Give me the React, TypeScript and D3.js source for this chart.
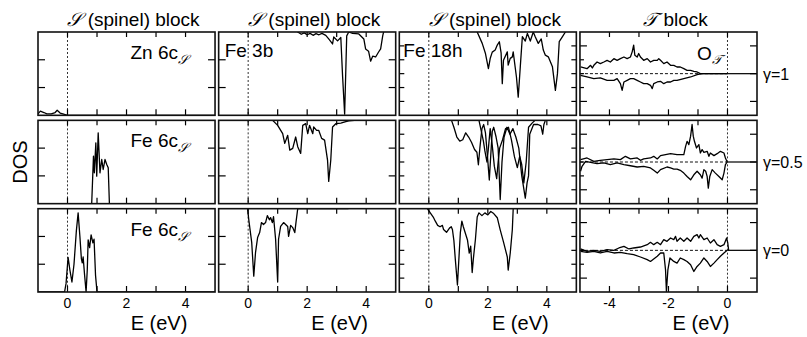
import * as d3 from 'd3';

type Pt = [number, number];

// column headings and labels
const titleScript = ['𝒮', '𝒮', '𝒮', '𝒯'];
const titleRest = [' (spinel) block', ' (spinel) block', ' (spinel) block', ' block'];
const gammaLabels = ['γ=1', 'γ=0.5', 'γ=0'];
const sTickLabels = [0, 2, 4];
const tTickLabels = [-4, -2, 0];

// S block, column 1 (DOS up from bottom, 0..3)
const znS1: Pt[] = [[-1, 0.05], [-0.92, 0.15], [-0.8, 0.1], [-0.7, 0.05], [-0.55, 0.05], [-0.42, 0.1], [-0.35, 0.18], [-0.25, 0.08], [-0.1, 0.03], [0, 0], [5, 0]];
const fe6cS2: Pt[] = [[-1, 0], [0.82, 0], [0.88, 1.71], [0.91, 1.11], [0.96, 2.19], [0.99, 0.99], [1.04, 2.55], [1.1, 1.11], [1.16, 1.59], [1.21, 1.23], [1.27, 1.59], [1.33, 1.41], [1.38, 1.29], [1.42, 0], [5, 0]];
const fe6cS3: Pt[] = [[-1, 0], [-0.1, 0], [-0.05, 0.3], [0.02, 1.25], [0.08, 0.8], [0.15, 0.36], [0.22, 1.0], [0.3, 2.2], [0.36, 2.85], [0.42, 2.0], [0.47, 1.2], [0.5, 1.05], [0.53, 1.26], [0.58, 0.6], [0.63, 0], [0.67, 0.8], [0.7, 1.88], [0.75, 1.6], [0.8, 2.06], [0.86, 1.77], [0.9, 1.9], [0.95, 0.6], [1.0, 0], [5, 0]];

// S block, column 2 (depth from top, 0..3)
const fe3b1: Pt[] = [[1.6, -0.3], [1.68, 0], [1.8, 0.08], [1.9, 0.03], [2.0, 0.1], [2.1, 0.05], [2.2, 0.12], [2.3, 0.06], [2.4, 0.1], [2.5, 0.05], [2.63, 0.12], [2.73, 0.25], [2.86, 0.43], [2.9, 0.18], [3.03, 0.32], [3.14, 0.2], [3.2, 1.59], [3.27, 2.96], [3.34, 0.14], [3.41, 0.0], [3.54, 0.05], [3.75, 0.07], [3.92, 0.25], [3.98, 0.61], [4.08, 0.69], [4.15, 1.05], [4.22, 0.87], [4.32, 0.9], [4.42, 0.72], [4.49, 0.61], [4.56, 0.14], [4.59, 0], [4.7, -0.3]];
const fe3b2: Pt[] = [[0.75, -0.1], [0.83, 0], [1.0, 0.18], [1.17, 0.48], [1.24, 0.83], [1.34, 0.54], [1.41, 1.07], [1.51, 1.01], [1.61, 0.6], [1.68, 0.95], [1.78, 1.19], [1.85, 0.18], [1.95, 0.12], [2.02, 0.48], [2.08, 0.18], [2.19, 0.48], [2.22, 0.24], [2.32, 0.36], [2.39, 0.36], [2.49, 0.65], [2.59, 0.71], [2.69, 1.43], [2.73, 2.2], [2.8, 1.43], [2.86, 0.24], [2.97, 0.12], [3.14, 0.1], [3.31, 0.05], [3.41, 0.02], [3.6, 0]];
const fe3b3: Pt[] = [[-0.05, -0.2], [-0.02, 0], [0.02, 0.39], [0.12, 1.21], [0.19, 2.43], [0.25, 1.57], [0.32, 1.04], [0.39, 0.86], [0.45, 0.5], [0.52, 0.57], [0.59, 0.5], [0.65, 0.25], [0.72, 0.4], [0.76, 0.32], [0.82, 0.5], [0.86, 0.29], [0.93, 1.1], [1.0, 2.64], [1.03, 1.1], [1.1, 0.64], [1.2, 0.5], [1.27, 0.57], [1.34, 0.64], [1.37, 1.0], [1.44, 0.6], [1.51, 0.68], [1.58, 0.86], [1.62, 0.5], [1.68, 0], [3.0, 0], [3.4, 0]];

// S block, column 3 (depth from top, 0..6)
const fe18h1: Pt[] = [[1.6, -0.3], [1.64, 0], [1.81, 0.82], [1.92, 1.55], [2.02, 2.63], [2.08, 1.91], [2.15, 1.45], [2.25, 1.3], [2.32, 0.94], [2.39, 0.7], [2.45, 1.5], [2.49, 3.72], [2.53, 2.03], [2.66, 1.43], [2.69, 2.39], [2.76, 1.9], [2.83, 1.79], [2.86, 1.43], [2.97, 3.24], [3.03, 4.69], [3.1, 2.51], [3.17, 0.34], [3.27, 0.65], [3.34, 0.1], [3.44, 0.65], [3.54, 0], [3.61, 0.36], [3.71, 0.82], [3.81, 0.5], [3.88, 1.3], [3.95, 1.67], [4.05, 1.79], [4.19, 2.51], [4.29, 4.2], [4.36, 3.0], [4.42, 0.7], [4.53, 0.34], [4.63, 0], [4.7, -0.3]];
const fe18h2a: Pt[] = [[0.7, -0.2], [0.77, 0], [0.85, 0.5], [0.95, 1.2], [1.05, 1.5], [1.15, 1.4], [1.25, 0.9], [1.35, 1.2], [1.45, 1.6], [1.55, 2.1], [1.63, 2.3], [1.68, 3.2], [1.73, 2.0], [1.8, 0.6], [1.86, 0.3], [1.92, 0.9], [1.98, 2.4], [2.05, 4.3], [2.1, 2.5], [2.15, 0.8], [2.2, 0.5], [2.28, 1.2], [2.35, 2.0], [2.42, 5.7], [2.48, 3.0], [2.55, 1.2], [2.65, 0.5], [2.75, 1.0], [2.85, 0.6], [2.95, 1.2], [3.05, 2.0], [3.15, 4.0], [3.27, 5.6], [3.33, 4.5], [3.38, 4.0], [3.42, 1.0], [3.55, 0.3], [3.7, 0.3], [3.8, 0.4], [3.86, 1.0], [3.9, 0.3], [3.95, 0], [4.0, -0.2]];
const fe18h2b: Pt[] = [[1.65, -0.2], [1.7, 0], [1.78, 0.8], [1.85, 1.5], [1.9, 2.2], [1.97, 3.0], [2.02, 2.0], [2.08, 0.6], [2.15, 1.8], [2.22, 3.3], [2.3, 4.2], [2.35, 3.0], [2.4, 2.0], [2.5, 1.4], [2.6, 0.6], [2.7, 0.5], [2.8, 1.4], [2.9, 2.6], [3.0, 3.4], [3.08, 2.6], [3.15, 3.2], [3.22, 4.5], [3.3, 3.0], [3.38, 0.5], [3.5, 0.2], [3.6, 0], [3.7, -0.2]];
const fe18h3: Pt[] = [[-0.08, -0.2], [-0.05, 0], [0.05, 0.3], [0.15, 0.6], [0.22, 0.9], [0.3, 1.2], [0.38, 1.3], [0.46, 1.2], [0.5, 1.5], [0.6, 1.7], [0.7, 1.4], [0.76, 1.3], [0.8, 1.5], [0.85, 2.3], [0.9, 3.7], [0.97, 5.5], [1.03, 3.2], [1.07, 1.7], [1.12, 0.9], [1.17, 1.3], [1.31, 2.25], [1.37, 3.2], [1.42, 2.7], [1.47, 4.6], [1.51, 3.6], [1.58, 2.2], [1.64, 0.6], [1.7, 0.3], [1.8, 0.5], [1.9, 0.3], [2.0, 0.45], [2.1, 0.2], [2.2, 0.35], [2.32, 0.65], [2.42, 1.52], [2.53, 2.39], [2.66, 3.48], [2.69, 4.42], [2.76, 3.19], [2.83, 1.52], [2.86, 0], [3.0, -0.2]];

// T block, O_T (spin up / spin down, -3..3)
const oT1Up: Pt[] = [[-4.98, 0.48], [-4.76, 0.36], [-4.64, 0.6], [-4.58, 0.41], [-4.53, 0.6], [-4.42, 0.84], [-4.31, 0.72], [-4.19, 0.84], [-4.08, 0.96], [-3.97, 0.84], [-3.85, 1.08], [-3.74, 0.96], [-3.63, 1.08], [-3.51, 1.2], [-3.4, 1.08], [-3.29, 1.2], [-3.23, 1.57], [-3.18, 2.05], [-3.14, 1.33], [-3.06, 1.2], [-3.01, 1.45], [-2.95, 1.2], [-2.84, 0.96], [-2.72, 1.08], [-2.61, 0.84], [-2.5, 0.96], [-2.38, 0.96], [-2.33, 1.08], [-2.27, 0.96], [-2.16, 0.72], [-2.05, 0.84], [-1.93, 0.6], [-1.82, 0.6], [-1.71, 0.48], [-1.6, 0.48], [-1.48, 0.36], [-1.37, 0.24], [-1.25, 0.24], [-1.14, 0.17], [-1.03, 0.12], [-0.92, 0], [0, 0]];
const oT1Dn: Pt[] = [[-4.98, -0.12], [-4.76, -0.24], [-4.53, -0.36], [-4.31, -0.31], [-4.08, -0.48], [-3.85, -0.48], [-3.74, -0.36], [-3.63, -0.72], [-3.57, -1.2], [-3.51, -0.6], [-3.4, -0.48], [-3.29, -0.36], [-3.18, -0.36], [-3.06, -0.48], [-2.95, -0.6], [-2.84, -0.72], [-2.72, -0.72], [-2.61, -0.84], [-2.55, -1.08], [-2.5, -0.72], [-2.38, -0.6], [-2.27, -0.55], [-2.16, -0.72], [-2.05, -0.6], [-1.93, -0.6], [-1.82, -0.48], [-1.71, -0.48], [-1.48, -0.36], [-1.25, -0.24], [-1.03, -0.07], [-0.86, 0], [0, 0]];
const oT2Up: Pt[] = [[-4.98, 0.17], [-4.76, 0.29], [-4.53, 0.05], [-4.31, 0.12], [-4.08, 0.17], [-3.85, 0.22], [-3.63, 0.17], [-3.46, 0.41], [-3.29, 0.22], [-3.06, 0.29], [-2.95, 0.12], [-2.84, 0.22], [-2.61, 0.29], [-2.5, 0.41], [-2.38, 0.22], [-2.27, 0.46], [-2.1, 0.53], [-1.93, 0.6], [-1.71, 0.53], [-1.48, 0.53], [-1.42, 1.13], [-1.37, 1.49], [-1.31, 1.25], [-1.25, 1.86], [-1.2, 2.7], [-1.16, 1.86], [-1.12, 1.49], [-1.05, 1.01], [-0.97, 1.25], [-0.92, 0.65], [-0.86, 0.89], [-0.8, 0.7], [-0.69, 0.77], [-0.63, 0.41], [-0.58, 0.65], [-0.46, 0.46], [-0.35, 0.6], [-0.24, 0.77], [-0.12, 0.65], [-0.07, 0.29], [-0.01, 0]];
const oT2Dn: Pt[] = [[-4.98, -0.67], [-4.93, -0.31], [-4.81, 0.05], [-4.64, -0.02], [-4.42, -0.12], [-4.19, -0.07], [-3.97, -0.19], [-3.74, -0.07], [-3.51, -0.19], [-3.29, -0.27], [-3.06, -0.36], [-2.84, -0.31], [-2.61, -0.43], [-2.5, -0.6], [-2.38, -0.8], [-2.27, -0.55], [-2.05, -0.36], [-1.93, -0.43], [-1.82, -0.51], [-1.71, -0.51], [-1.6, -0.6], [-1.48, -0.8], [-1.37, -1.04], [-1.25, -1.28], [-1.14, -0.92], [-1.03, -0.67], [-0.92, -0.92], [-0.86, -1.16], [-0.8, -0.55], [-0.74, -0.67], [-0.69, -1.04], [-0.65, -1.88], [-0.6, -1.04], [-0.52, -0.55], [-0.41, -0.8], [-0.29, -1.04], [-0.18, -1.28], [-0.12, -0.8], [-0.07, -0.19], [-0.01, 0]];
const oT3Up: Pt[] = [[-4.98, 0.1], [-4.76, -0.07], [-4.53, 0], [-4.31, -0.07], [-4.08, 0.05], [-3.85, 0], [-3.68, 0.17], [-3.51, 0.29], [-3.34, 0.1], [-3.18, 0.17], [-2.95, 0.24], [-2.72, 0.41], [-2.61, 0.58], [-2.5, 0.41], [-2.38, 0.58], [-2.27, 0.41], [-2.16, 0.77], [-2.05, 0.65], [-1.93, 0.89], [-1.82, 0.77], [-1.76, 1.01], [-1.71, 0.65], [-1.6, 0.89], [-1.48, 0.65], [-1.37, 0.89], [-1.25, 0.65], [-1.14, 1.01], [-1.03, 1.13], [-0.97, 0.89], [-0.92, 1.13], [-0.8, 0.77], [-0.69, 0.89], [-0.58, 0.53], [-0.46, 0.77], [-0.35, 0.41], [-0.24, 0.29], [-0.12, 0.41], [-0.03, 0.89], [0.01, 0.53], [0.04, 0]];
const oT3Dn: Pt[] = [[-4.98, -0.07], [-4.76, -0.14], [-4.53, -0.07], [-4.31, -0.19], [-4.08, -0.07], [-3.85, -0.19], [-3.63, -0.14], [-3.4, -0.24], [-3.18, -0.31], [-2.95, -0.48], [-2.72, -0.67], [-2.61, -0.8], [-2.38, -0.43], [-2.27, -0.19], [-2.16, -0.19], [-2.1, -1.4], [-2.07, -2.96], [-2.02, -1.4], [-1.95, -0.55], [-1.82, -0.8], [-1.71, -0.92], [-1.6, -0.55], [-1.48, -0.67], [-1.37, -0.8], [-1.25, -1.04], [-1.14, -1.52], [-1.03, -1.16], [-0.92, -0.92], [-0.8, -0.55], [-0.69, -0.8], [-0.58, -1.16], [-0.46, -0.92], [-0.35, -0.67], [-0.24, -0.43], [-0.12, -0.19], [-0.01, 0]];

const curves: Pt[][][][] = [
  [[znS1], [fe3b1], [fe18h1], [oT1Up, oT1Dn]],
  [[fe6cS2], [fe3b2], [fe18h2a, fe18h2b], [oT2Up, oT2Dn]],
  [[fe6cS3], [fe3b3], [fe18h3], [oT3Up, oT3Dn]],
];

const FONT = 'Liberation Sans, Arial, Helvetica, sans-serif';

export default function App() {
  const W = 807;
  const H = 337;
  const cols = d3.scaleBand<number>().domain([0, 1, 2, 3]).range([38, 757]).paddingInner(0.02);
  const rows = d3.scaleBand<number>().domain([0, 1, 2]).range([32, 292]).paddingInner(0.057);
  const bw = cols.bandwidth();
  const bh = rows.bandwidth();

  const xScale = (c: number) => {
    const x0 = cols(c)!;
    return d3.scaleLinear().domain(c < 3 ? [-1, 5] : [-5, 1]).range([x0, x0 + bw]);
  };
  const yScale = (c: number, r: number) => {
    const y0 = rows(r)!;
    if (c === 0) return d3.scaleLinear().domain([0, 3]).range([y0 + bh, y0]);
    if (c === 1) return d3.scaleLinear().domain([0, 3]).range([y0, y0 + bh]);
    if (c === 2) return d3.scaleLinear().domain([0, 6]).range([y0, y0 + bh]);
    return d3.scaleLinear().domain([-3, 3]).range([y0 + bh, y0]);
  };

  const cells: JSX.Element[] = [];
  for (let r = 0; r < 3; r++) {
    for (let c = 0; c < 4; c++) {
      const x = xScale(c);
      const y = yScale(c, r);
      const x0 = cols(c)!;
      const y0 = rows(r)!;
      const line = d3.line<Pt>().x((d) => x(d[0])).y((d) => y(d[1]));
      const xt = d3.range(x.domain()[0] + 1, x.domain()[1]);
      const leftTicks: { v: number; len: number }[] =
        c < 2 ? [1, 2].map((v) => ({ v, len: 7 }))
        : c === 2 ? [1, 2, 3, 4, 5].map((v) => ({ v, len: 5 }))
        : [-2, -1, 0, 1, 2].map((v) => ({ v, len: Math.abs(v) === 2 ? 7 : 4 }));
      const rightTicks: { v: number; len: number }[] =
        c < 2 ? [1, 2].map((v) => ({ v, len: 7 }))
        : c === 2 ? [1, 2, 3, 4, 5].map((v) => ({ v, len: 5 }))
        : [-2, 0, 2].map((v) => ({ v, len: 7 }));
      const id = `clip-${r}-${c}`;
      cells.push(
        <g key={id}>
          <clipPath id={id}>
            <rect x={x0} y={y0} width={bw} height={bh} />
          </clipPath>
          {/* Fermi level */}
          <line x1={x(0)} x2={x(0)} y1={y0} y2={y0 + bh} stroke="#333" strokeWidth={1} strokeDasharray="2,2" />
          {c === 3 && (
            <g>
              <line x1={x(-5)} x2={x(0)} y1={y(0)} y2={y(0)} stroke="#111" strokeWidth={1} strokeDasharray="3,2" />
              <line x1={x(0)} x2={x(1)} y1={y(0)} y2={y(0)} stroke="#111" strokeWidth={1.3} />
            </g>
          )}
          <g clipPath={`url(#${id})`}>
            {curves[r][c].map((pts, i) => (
              <path key={i} d={line(pts) || ''} fill="none" stroke="#000" strokeWidth={1.3} strokeLinejoin="round" />
            ))}
          </g>
          {/* ticks */}
          {xt.map((v) => (
            <g key={`xt${v}`}>
              <line x1={x(v)} x2={x(v)} y1={y0 + bh} y2={y0 + bh - 6} stroke="#000" strokeWidth={1.2} />
              <line x1={x(v)} x2={x(v)} y1={y0} y2={y0 + 5} stroke="#000" strokeWidth={1.2} />
            </g>
          ))}
          {leftTicks.map((t) => (
            <line key={`lt${t.v}`} x1={x0} x2={x0 + t.len} y1={y(t.v)} y2={y(t.v)} stroke="#000" strokeWidth={1.2} />
          ))}
          {rightTicks.map((t) => (
            <line key={`rt${t.v}`} x1={x0 + bw} x2={x0 + bw - t.len} y1={y(t.v)} y2={y(t.v)} stroke="#000" strokeWidth={1.2} />
          ))}
          <rect x={x0} y={y0} width={bw} height={bh} fill="none" stroke="#111" strokeWidth={1.6} />
        </g>
      );
    }
  }

  const labelY = (r: number) => rows(r)! + 27;

  return (
    <svg width={W} height={H} viewBox={`0 0 ${W} ${H}`} style={{ position: 'absolute', left: 0, top: 0, background: '#fff' }} fontFamily={FONT}>
      <rect x={0} y={0} width={W} height={H} fill="#fff" />
      {[0, 1, 2, 3].map((c) => (
        <text key={`t${c}`} x={cols(c)! + bw / 2 + 7} y={26} textAnchor="middle" fontSize={19} fill="#000">
          <tspan fontFamily="DejaVu Serif, serif" fontStyle="italic">{titleScript[c]}</tspan>
          {titleRest[c]}
        </text>
      ))}
      {cells}
      {/* in-panel labels */}
      {[0, 1, 2].map((r) => (
        <text key={`fe6c${r}`} x={cols(0)! + 150} y={labelY(r)} textAnchor="end" fontSize={19}>
          {r === 0 ? 'Zn 6c' : 'Fe 6c'}
          <tspan fontSize={13} dy={5} fontFamily="DejaVu Serif, serif" fontStyle="italic">{titleScript[0]}</tspan>
        </text>
      ))}
      <text x={cols(1)! + 6} y={labelY(0) - 2} fontSize={19}>Fe 3b</text>
      <text x={cols(2)! + 4} y={labelY(0) - 2} fontSize={19}>Fe 18h</text>
      <text x={cols(3)! + 117} y={labelY(0) + 1} fontSize={19}>
        O<tspan fontSize={13} dy={4} fontFamily="DejaVu Serif, serif" fontStyle="italic">{titleScript[3]}</tspan>
      </text>
      {/* gamma labels */}
      {gammaLabels.map((g, r) => (
        <text key={g} x={763} y={yScale(3, r)(0) + 6} fontSize={16}>{g}</text>
      ))}
      {/* DOS */}
      <text transform={`translate(27,${(rows(0)! + rows(2)! + bh) / 2}) rotate(-90)`} textAnchor="middle" fontSize={20}>DOS</text>
      {/* x tick labels and axis titles */}
      {[0, 1, 2, 3].map((c) => {
        const x = xScale(c);
        const labs = c < 3 ? sTickLabels : tTickLabels;
        return (
          <g key={`xl${c}`}>
            {labs.map((v) => (
              <text key={v} x={x(v)} y={308} textAnchor="middle" fontSize={14}>{v}</text>
            ))}
            <text x={cols(c)! + 121} y={330} textAnchor="middle" fontSize={20}>E (eV)</text>
          </g>
        );
      })}
    </svg>
  );
}
